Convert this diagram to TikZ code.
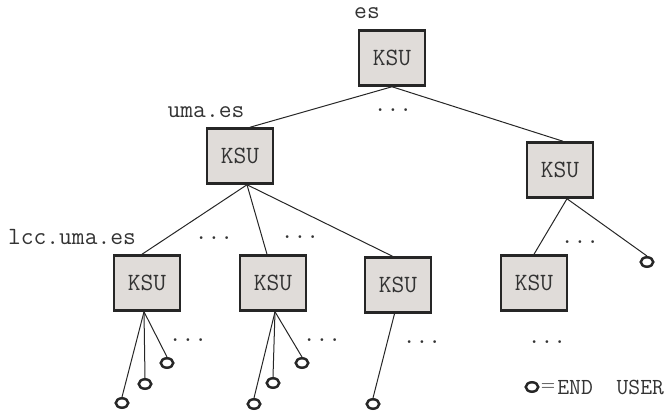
\documentclass[tikz,border=0pt]{standalone}
\usetikzlibrary{shapes.geometric}
\definecolor{ksugray}{RGB}{224,220,217}
\begin{document}
\begin{tikzpicture}[x=0.5pt,y=-0.5pt,
    font=\ttfamily\fontsize{12.4}{14}\selectfont, text=black!80,
    ksu/.style={draw=black!85, line width=1.25pt, fill=ksugray, minimum width=33pt, minimum height=27.5pt, inner sep=0pt},
    user/.style={ellipse, draw=black!85, line width=1.25pt, minimum width=6.25pt, minimum height=4.75pt, inner sep=0pt},
    link/.style={draw=black!85, line width=0.5pt}]
    \useasboundingbox (0,0) rectangle (671,413);
    % domain servers
    \node[ksu] (es)   at (392,58)  {KSU};
    \node[ksu] (uma)  at (240,156) {KSU};
    \node[ksu] (dom2) at (560,170) {KSU};
    \node[ksu] (lcc)  at (147,283) {KSU};
    \node[ksu] (sub2) at (273,283) {KSU};
    \node[ksu] (sub3) at (398,285) {KSU};
    \node[ksu] (sub4) at (534,283) {KSU};
    % end users
    \node[user] (u1) at (122,403) {};
    \node[user] (u2) at (145,384) {};
    \node[user] (u3) at (167,363) {};
    \node[user] (u4) at (254,404) {};
    \node[user] (u5) at (273,383) {};
    \node[user] (u6) at (302,363) {};
    \node[user] (u7) at (373,404) {};
    \node[user] (u8) at (647,262) {};
    \node[user] (key) at (532,387) {};
    % names
    \node (esname)  at (367,13)  {es};
    \node (umaname) at (206,112) {uma.es};
    \node (lccname) at (72,237)  {lcc.uma.es};
    \node[font=\rmfamily\small] (keyeq) at (548,387) {=};
    \node[anchor=west, inner sep=0pt, font=\ttfamily\fontsize{11.5}{13}\selectfont] (keytext) at (557,387) {END\ \ USER};
    % the rest of the tree
    \foreach \p/\n in {{393,110}/d1,{214,238}/d2,{300,237}/d3,{580,242}/d4,
                       {188,340}/d5,{322,340}/d6,{422,342}/d7,{547,342}/d8}
        \node (\n) at (\p) {...};
    \draw[link] (es.south) -- ([xshift=5pt]uma.north);
    \draw[link] (es.south) -- ([xshift=1.5pt]dom2.north);
    \draw[link] ([xshift=3.5pt]uma.south) -- ([xshift=-2.5pt]lcc.north);
    \draw[link] ([xshift=3.5pt]uma.south) -- ([xshift=-3pt]sub2.north);
    \draw[link] ([xshift=3.5pt]uma.south) -- ([xshift=-2.75pt]sub3.north);
    \draw[link] ([xshift=3.5pt]dom2.south) -- (sub4.north);
    \draw[link] ([xshift=3.5pt]dom2.south) -- (u8.north);
    \foreach \u in {u1,u2,u3}
        \draw[link] ([xshift=-1.5pt]lcc.south) -- (\u.north);
    \foreach \u in {u4,u5,u6}
        \draw[link] ([xshift=1pt]sub2.south) -- (\u.north);
    \draw[link] ([xshift=-1.75pt]sub3.south) -- (u7.north);
\end{tikzpicture}
\end{document}
